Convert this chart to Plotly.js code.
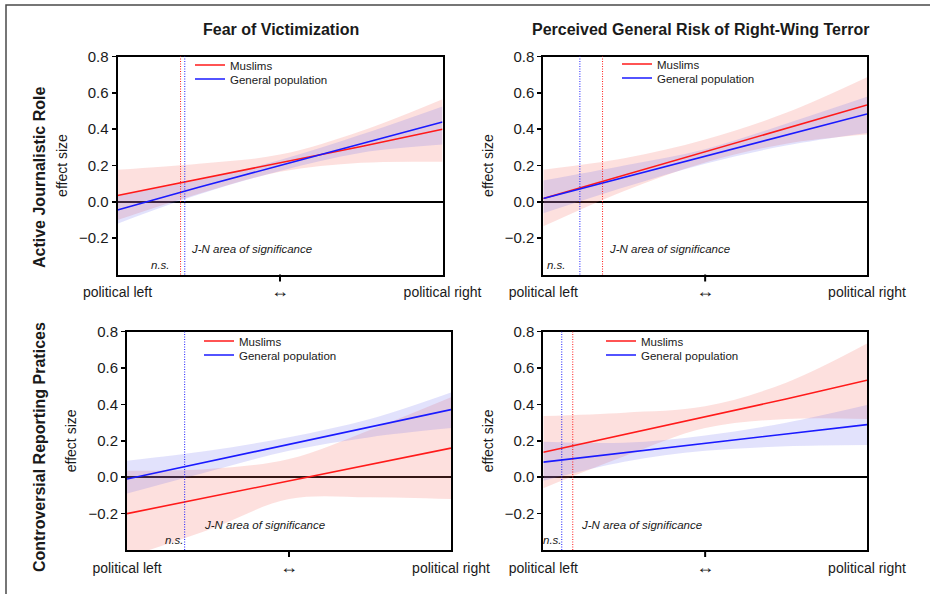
<!DOCTYPE html>
<html>
<head>
<meta charset="utf-8">
<script src="https://cdn.plot.ly/plotly-3.0.1.min.js"></script>
<style>html,body{margin:0;padding:0;background:#fff;}#chart{width:930px;height:594px;}</style>
</head>
<body>
<div id="chart"></div>
<script>
// ---------- data ----------
const xGrid = [0, 0.25, 0.5, 0.75, 1];
const xTickVals = [0, 0.5, 1];
const xTickText = ['political left', '<span style="font-size:18px">↔</span>', 'political right'];
const yTickVals = [-0.2, 0, 0.2, 0.4, 0.6, 0.8];
const columnTitles = ['Fear of Victimization', 'Perceived General Risk of Right-Wing Terror'];
const rowTitles = ['Active Journalistic Role', 'Controversial Reporting Pratices'];
const seriesNames = ['Muslims', 'General population'];

// Panel 1: Active Journalistic Role x Fear of Victimization
const p1MuslimsFit   = [0.035, 0.125, 0.215, 0.305, 0.40];
const p1MuslimsUpper = [0.177, 0.21, 0.26, 0.39, 0.565];
const p1MuslimsLower = [-0.10, 0.045, 0.165, 0.215, 0.22];
const p1GeneralFit   = [-0.045, 0.08, 0.20, 0.32, 0.44];
const p1GeneralUpper = [0.036, 0.12, 0.23, 0.37, 0.525];
const p1GeneralLower = [-0.12, 0.04, 0.17, 0.27, 0.315];

// Panel 2: Active Journalistic Role x Perceived General Risk
const p2MuslimsFit   = [0.018, 0.147, 0.275, 0.404, 0.533];
const p2MuslimsUpper = [0.177, 0.24, 0.343, 0.49, 0.686];
const p2MuslimsLower = [-0.135, 0.06, 0.217, 0.32, 0.37];
const p2GeneralFit   = [0.018, 0.135, 0.25, 0.367, 0.484];
const p2GeneralUpper = [0.117, 0.20, 0.29, 0.43, 0.578];
const p2GeneralLower = [-0.063, 0.08, 0.21, 0.31, 0.379];

// Panel 3: Controversial Reporting Pratices x Fear of Victimization
const p3MuslimsFit   = [-0.20, -0.11, -0.02, 0.07, 0.16];
const p3MuslimsUpper = [0.036, 0.045, 0.10, 0.26, 0.44];
const p3MuslimsLower = [-0.44, -0.29, -0.12, -0.11, -0.12];
const p3GeneralFit   = [-0.01, 0.085, 0.18, 0.275, 0.372];
const p3GeneralUpper = [0.09, 0.145, 0.22, 0.32, 0.466];
const p3GeneralLower = [-0.09, 0.03, 0.145, 0.22, 0.27];

// Panel 4: Controversial Reporting Pratices x Perceived General Risk
const p4MuslimsFit   = [0.137, 0.235, 0.33, 0.43, 0.533];
const p4MuslimsUpper = [0.336, 0.355, 0.39, 0.52, 0.735];
const p4MuslimsLower = [-0.06, 0.115, 0.27, 0.32, 0.32];
const p4GeneralFit   = [0.083, 0.136, 0.186, 0.238, 0.289];
const p4GeneralUpper = [0.195, 0.19, 0.23, 0.30, 0.397];
const p4GeneralLower = [-0.02, 0.085, 0.145, 0.17, 0.177];

// Johnson-Neyman thresholds (moderator position) per panel
const jnMuslims = [0.194, 0.183, null, 0.091];
const jnGeneral = [0.207, 0.113, 0.178, 0.057];

const annNS = 'n.s.';
const annJN = 'J-N area of significance';

// ---------- styling / layout helpers ----------
const W = 930, H = 594;
const px = v => v / W;
const py = v => 1 - v / H;
const FONT = 'Liberation Sans, Arial, Helvetica, sans-serif';
const RED = '#ff1a1a', BLUE = '#1a1aff';
const RED_FILL = 'rgba(245,110,100,0.21)', BLUE_FILL = 'rgba(100,100,240,0.19)';

const panels = [
  {mu: [p1MuslimsFit, p1MuslimsUpper, p1MuslimsLower], ge: [p1GeneralFit, p1GeneralUpper, p1GeneralLower],
   xd: [px(117.5), px(442.5)], yd: [py(274.5), py(56.5)], leg: [190, 65], ns: 0.132, jnx: 0.207, jnShift: 4},
  {mu: [p2MuslimsFit, p2MuslimsUpper, p2MuslimsLower], ge: [p2GeneralFit, p2GeneralUpper, p2GeneralLower],
   xd: [px(543.3), px(867)], yd: [py(274.5), py(56.5)], leg: [617, 64], ns: 0.04, jnx: 0.183, jnShift: 4},
  {mu: [p3MuslimsFit, p3MuslimsUpper, p3MuslimsLower], ge: [p3GeneralFit, p3GeneralUpper, p3GeneralLower],
   xd: [px(127), px(451)], yd: [py(550), py(331.7)], leg: [199, 341], ns: 0.148, jnx: 0.178, jnShift: 17},
  {mu: [p4MuslimsFit, p4MuslimsUpper, p4MuslimsLower], ge: [p4GeneralFit, p4GeneralUpper, p4GeneralLower],
   xd: [px(543.3), px(867)], yd: [py(550), py(331.7)], leg: [601, 341], ns: 0.029, jnx: 0.091, jnShift: 6}
];

const traces = [];
const layout = {
  width: W, height: H,
  margin: {l: 0, r: 0, t: 0, b: 0, autoexpand: false},
  paper_bgcolor: '#fff', plot_bgcolor: '#fff',
  font: {family: FONT, color: '#1a1a1a'},
  showlegend: true,
  shapes: [], annotations: []
};

function legendBox(xPix, centerPix) {
  // legend item centre sits ~14.5px below the legend's top edge
  return {x: px(xPix), y: py(centerPix - 14.5), xanchor: 'left', yanchor: 'top',
    bgcolor: 'rgba(0,0,0,0)', borderwidth: 0, font: {size: 11.5, color: '#1a1a1a'}};
}

panels.forEach((p, i) => {
  const n = i + 1;
  const sfx = n === 1 ? '' : String(n);
  const xa = 'x' + sfx, ya = 'y' + sfx;
  const legMu = 'legend' + sfx, legGe = 'legend' + (n + 4);
  const bands = [[p.mu, RED_FILL, 'Muslims'], [p.ge, BLUE_FILL, 'General population']];
  bands.forEach(([s, fill, nm]) => {
    traces.push({x: xGrid, y: s[2], xaxis: xa, yaxis: ya, mode: 'lines', type: 'scatter',
      line: {width: 0, shape: 'spline', color: fill}, showlegend: false, hoverinfo: 'skip', name: nm + ' lower'});
    traces.push({x: xGrid, y: s[1], xaxis: xa, yaxis: ya, mode: 'lines', type: 'scatter', fill: 'tonexty',
      fillcolor: fill, line: {width: 0, shape: 'spline', color: fill}, showlegend: false, hoverinfo: 'skip', name: nm + ' upper'});
  });
  traces.push({x: xGrid, y: p.mu[0], xaxis: xa, yaxis: ya, mode: 'lines', type: 'scatter', name: seriesNames[0],
    line: {color: RED, width: 1.6}, legend: legMu});
  traces.push({x: xGrid, y: p.ge[0], xaxis: xa, yaxis: ya, mode: 'lines', type: 'scatter', name: seriesNames[1],
    line: {color: BLUE, width: 1.6}, legend: legGe});

  layout['xaxis' + sfx] = {
    domain: p.xd, anchor: ya, range: [0, 1], tickvals: xTickVals, ticktext: xTickText,
    ticks: 'outside', ticklen: 4, tickcolor: 'rgba(0,0,0,0)', showline: true, mirror: true,
    linecolor: '#000', linewidth: 2, showgrid: false, zeroline: false,
    tickfont: {size: 14, color: '#1a1a1a'}, fixedrange: true
  };
  layout['yaxis' + sfx] = {
    domain: p.yd, anchor: xa, range: [-0.4, 0.8], tickvals: yTickVals, tickformat: '.1f',
    ticks: 'outside', ticklen: 4, tickwidth: 1.5, tickcolor: '#000', showline: true, mirror: true,
    linecolor: '#000', linewidth: 2, showgrid: false, zeroline: true, zerolinecolor: '#000', zerolinewidth: 2,
    tickfont: {size: 15, color: '#1a1a1a'}, automargin: true, fixedrange: true,
    title: {text: 'effect size', font: {size: 14, color: '#1a1a1a'}, standoff: 8}
  };
  layout[legMu] = legendBox(p.leg[0], p.leg[1]);
  layout[legGe] = legendBox(p.leg[0], p.leg[1] + 14);

  // middle tick of the x axis (outside the plot area, so drawn in paper space)
  const xMid = (p.xd[0] + p.xd[1]) / 2;
  layout.shapes.push({type: 'line', xref: 'paper', yref: 'paper', x0: xMid, x1: xMid,
    y0: p.yd[0], y1: p.yd[0] - 7 / H, line: {color: '#000', width: 2}});
  // J-N dotted lines
  if (jnMuslims[i] !== null) {
    layout.shapes.push({type: 'line', xref: xa, yref: ya + ' domain', x0: jnMuslims[i], x1: jnMuslims[i], y0: 0, y1: 1,
      line: {color: RED, width: 1, dash: '1px,1.5px'}});
  }
  if (jnGeneral[i] !== null) {
    layout.shapes.push({type: 'line', xref: xa, yref: ya + ' domain', x0: jnGeneral[i], x1: jnGeneral[i], y0: 0, y1: 1,
      line: {color: BLUE, width: 1, dash: '1px,1.5px'}});
  }
  layout.annotations.push({xref: xa, yref: ya, x: p.ns, y: -0.345, text: annNS, showarrow: false,
    font: {size: 11.5, color: '#1a1a1a', style: 'italic'}, xanchor: 'center', yanchor: 'middle'});
  layout.annotations.push({xref: xa, yref: ya, x: p.jnx, y: -0.262, text: annJN, showarrow: false,
    xshift: p.jnShift, font: {size: 11.5, color: '#1a1a1a', style: 'italic'}, xanchor: 'left', yanchor: 'middle'});
});

// column and row titles
layout.annotations.push({xref: 'paper', yref: 'paper', x: px(281), y: py(30), text: '<b>' + columnTitles[0] + '</b>',
  showarrow: false, font: {size: 16, color: '#1a1a1a'}, xanchor: 'center', yanchor: 'middle'});
layout.annotations.push({xref: 'paper', yref: 'paper', x: px(700), y: py(30), text: '<b>' + columnTitles[1] + '</b>',
  showarrow: false, font: {size: 16, color: '#1a1a1a'}, xanchor: 'center', yanchor: 'middle'});
layout.annotations.push({xref: 'paper', yref: 'paper', x: px(39), y: py(178), text: '<b>' + rowTitles[0] + '</b>',
  showarrow: false, textangle: -90, font: {size: 16, color: '#1a1a1a'}, xanchor: 'center', yanchor: 'middle'});
layout.annotations.push({xref: 'paper', yref: 'paper', x: px(39), y: py(447), text: '<b>' + rowTitles[1] + '</b>',
  showarrow: false, textangle: -90, font: {size: 16, color: '#1a1a1a'}, xanchor: 'center', yanchor: 'middle'});

// outer frame
layout.shapes.push({type: 'rect', xref: 'paper', yref: 'paper', x0: px(6), x1: 1.05, y0: -0.05, y1: py(5),
  line: {color: '#4a4a4a', width: 1.5}, layer: 'below'});

Plotly.newPlot('chart', traces, layout, {displayModeBar: false, staticPlot: true});
</script>
</body>
</html>
